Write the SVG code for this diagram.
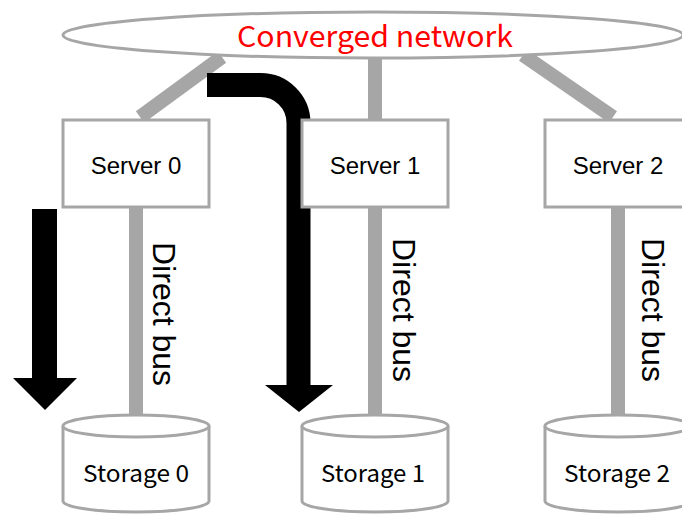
<svg xmlns="http://www.w3.org/2000/svg" width="682" height="514" viewBox="0 0 682 514">
  <style>
    .link { stroke: #a6a6a6; stroke-width: 14; fill: none; }
    .shape { stroke: #a6a6a6; stroke-width: 3; fill: #ffffff; }
    .flow { fill: #000000; }
    .label { font-family: "Liberation Sans", Arial, sans-serif; font-size: 24px; fill: #000000; text-anchor: middle; }
    .store { font-family: "Noto Sans CJK JP", "Liberation Sans", sans-serif; font-size: 23px; fill: #000000; text-anchor: middle; }
    .bus { font-family: "Liberation Sans", Arial, sans-serif; font-size: 32px; fill: #000000; }
    .net { font-family: "Noto Sans CJK JP", "Liberation Sans", sans-serif; font-size: 29px; fill: #ff0000; text-anchor: middle; }
  </style>

  <!-- network links and direct buses -->
  <g id="connectors">
    <line class="link" x1="222" y1="57" x2="140" y2="117" stroke-width="13"/>
    <line class="link" x1="375" y1="50" x2="375" y2="121" stroke-width="14"/>
    <line class="link" x1="523" y1="55" x2="613" y2="117" stroke-width="13"/>
    <line class="link" x1="136" y1="205" x2="136" y2="418" stroke-width="14"/>
    <line class="link" x1="375" y1="205" x2="375" y2="418" stroke-width="15"/>
    <line class="link" x1="618" y1="205" x2="618" y2="418" stroke-width="15"/>
  </g>

  <!-- data flow arrows -->
  <g id="flow-local">
    <rect class="flow" x="32" y="209" width="25" height="170"/>
    <polygon class="flow" points="13,378 77,378 45,410"/>
  </g>
  <g id="flow-remote">
    <path d="M207,85 H260 A38,38 0 0 1 298.5,123 V386" fill="none" stroke="#000000" stroke-width="24"/>
    <polygon class="flow" points="265,385 333,385 299,412"/>
  </g>

  <g id="network">
    <ellipse class="shape" cx="373" cy="35" rx="310" ry="23"/>
    <text class="net" x="375" y="47" textLength="276" lengthAdjust="spacingAndGlyphs">Converged network</text>
  </g>

  <g id="server0">
    <rect class="shape" x="63" y="120" width="146" height="87"/>
    <text class="label" x="136" y="174">Server 0</text>
  </g>
  <g id="server1">
    <rect class="shape" x="302" y="120" width="146" height="87"/>
    <text class="label" x="375" y="174">Server 1</text>
  </g>
  <g id="server2">
    <rect class="shape" x="545" y="120" width="146" height="87"/>
    <text class="label" x="618" y="174">Server 2</text>
  </g>

  <g id="bus-labels">
    <text class="bus" transform="translate(153,242) rotate(90)">Direct bus</text>
    <text class="bus" transform="translate(393,238) rotate(90)">Direct bus</text>
    <text class="bus" transform="translate(642,238) rotate(90)">Direct bus</text>
  </g>

  <g id="storage0">
    <path class="shape" d="M63,426 V501 A73,11 0 0 0 209,501 V426"/>
    <ellipse class="shape" cx="136" cy="426" rx="73" ry="11"/>
    <text class="store" x="136" y="482" textLength="106" lengthAdjust="spacingAndGlyphs">Storage 0</text>
  </g>
  <g id="storage1">
    <path class="shape" d="M302,426 V501 A73,11 0 0 0 448,501 V426"/>
    <ellipse class="shape" cx="375" cy="426" rx="73" ry="11"/>
    <text class="store" x="373" y="482" textLength="104" lengthAdjust="spacingAndGlyphs">Storage 1</text>
  </g>
  <g id="storage2">
    <path class="shape" d="M545,426 V501 A73,11 0 0 0 691,501 V426"/>
    <ellipse class="shape" cx="618" cy="426" rx="73" ry="11"/>
    <text class="store" x="617" y="482" textLength="106" lengthAdjust="spacingAndGlyphs">Storage 2</text>
  </g>
</svg>
